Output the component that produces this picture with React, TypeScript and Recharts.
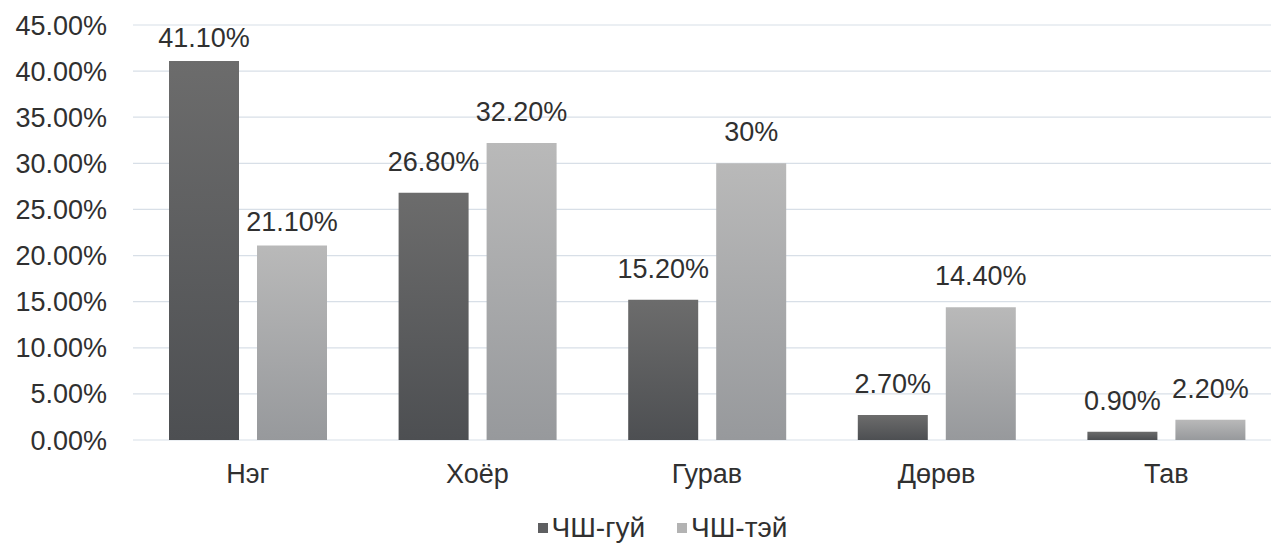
import { Bar, BarChart, CartesianGrid, LabelList, Legend, XAxis, YAxis } from "recharts";

// Share of respondents by count, split by ЧШ group
const categories = ["Нэг", "Хоёр", "Гурав", "Дөрөв", "Тав"];
const withoutValues = [41.1, 26.8, 15.2, 2.7, 0.9];
const withValues = [21.1, 32.2, 30, 14.4, 2.2];
const yTicks = [0, 5, 10, 15, 20, 25, 30, 35, 40, 45];

const seriesNames = { without: "ЧШ-гуй", with: "ЧШ-тэй" };

const chartData = categories.map((name, i) => ({
    name,
    without: withoutValues[i],
    with: withValues[i],
}));

const TEXT = "#303030";
const FONT = 27;

const formatTick = (v: number) => `${v.toFixed(2)}%`;
const formatValue = (v: number) => (Number.isInteger(v) ? `${v}%` : `${v.toFixed(2)}%`);

function ValueLabel(props: any) {
    const { x, y, width, value, index } = props;
    // first group sits close to the top of the plot, so its labels hug the bars more tightly
    const lift = index === 0 ? 14 : 22;
    return (
        <text x={Number(x) + Number(width) / 2} y={Number(y) - lift} textAnchor="middle" fill={TEXT} fontSize={FONT}>
            {formatValue(Number(value))}
        </text>
    );
}

function LegendContent() {
    const items = [
        { label: seriesNames.without, color: "#5e5f61" },
        { label: seriesNames.with, color: "#b3b3b3" },
    ];
    return (
        <div style={{ height: 46, paddingTop: 14, boxSizing: "border-box", display: "flex", justifyContent: "center" }}>
            {items.map((item, i) => (
                <div key={item.label} style={{ display: "flex", alignItems: "center", marginLeft: i > 0 ? 32 : 0, height: 27 }}>
                    <span style={{ width: 10, height: 10, background: item.color, marginRight: 4, display: "inline-block" }} />
                    <span style={{ fontSize: 28, lineHeight: "27px", color: TEXT }}>{item.label}</span>
                </div>
            ))}
        </div>
    );
}

export default function App() {
    return (
        <div
            style={{
                position: "absolute",
                left: 0,
                top: 0,
                width: 1271,
                height: 546,
                overflow: "hidden",
                background: "#ffffff",
                fontFamily: "'Liberation Sans', Arial, sans-serif",
            }}
        >
            <BarChart width={1325} height={546} data={chartData} margin={{ top: 25, right: 44, left: 0, bottom: 0 }} barSize={70} barGap={18}>
                <defs>
                    <linearGradient id="gradDark" x1="0" y1="0" x2="0" y2="1">
                        <stop offset="0%" stopColor="#6c6c6c" />
                        <stop offset="100%" stopColor="#4d4f52" />
                    </linearGradient>
                    <linearGradient id="gradLight" x1="0" y1="0" x2="0" y2="1">
                        <stop offset="0%" stopColor="#b9b9b9" />
                        <stop offset="100%" stopColor="#97999c" />
                    </linearGradient>
                </defs>
                <CartesianGrid vertical={false} stroke="#d8dfe7" strokeWidth={1.2} />
                <XAxis
                    dataKey="name"
                    axisLine={false}
                    tickLine={false}
                    tickSize={0}
                    tickMargin={24}
                    height={60}
                    interval={0}
                    tick={{ fill: TEXT, fontSize: FONT }}
                />
                <YAxis
                    domain={[0, 45]}
                    ticks={yTicks}
                    axisLine={false}
                    tickLine={false}
                    tickSize={0}
                    tickMargin={26}
                    width={133}
                    tick={{ fill: TEXT, fontSize: FONT }}
                    tickFormatter={(v) => formatTick(Number(v))}
                />
                <Legend content={<LegendContent />} verticalAlign="bottom" wrapperStyle={{ left: 0, width: 1325 }} />
                <Bar dataKey="without" name={seriesNames.without} fill="url(#gradDark)" isAnimationActive={false}>
                    <LabelList dataKey="without" content={<ValueLabel />} />
                </Bar>
                <Bar dataKey="with" name={seriesNames.with} fill="url(#gradLight)" isAnimationActive={false}>
                    <LabelList dataKey="with" content={<ValueLabel />} />
                </Bar>
            </BarChart>
        </div>
    );
}
